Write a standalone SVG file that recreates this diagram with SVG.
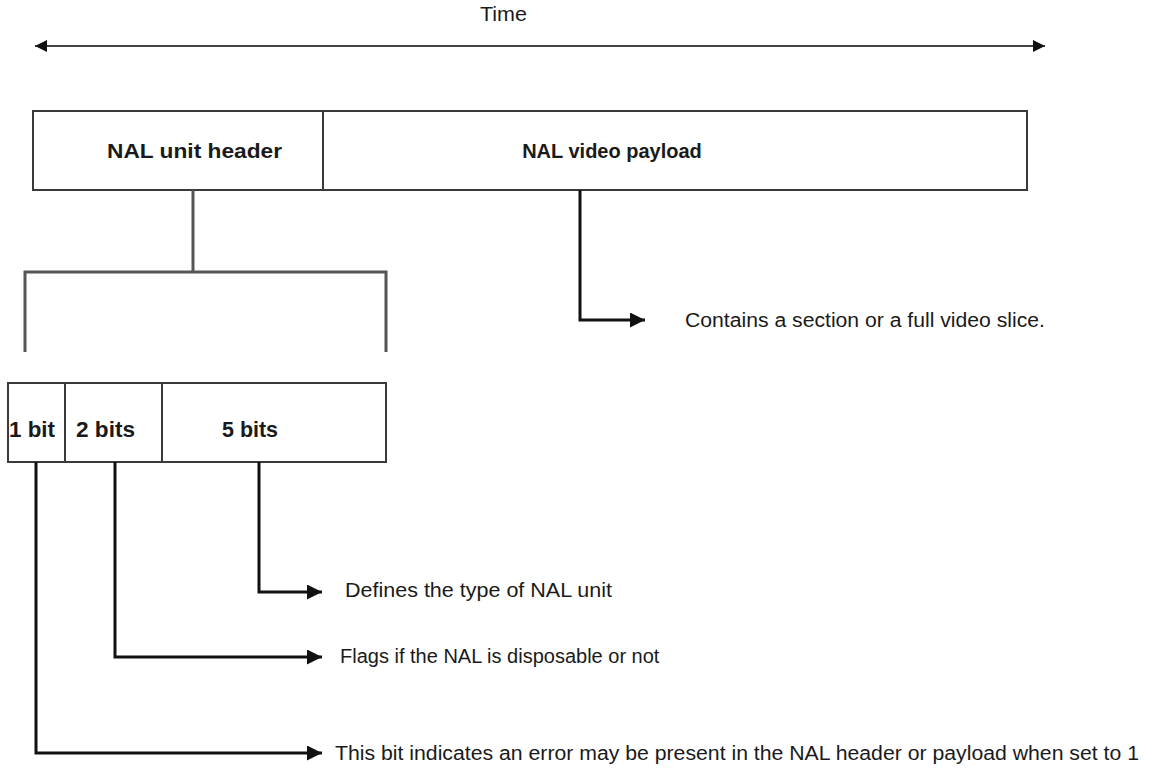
<svg xmlns="http://www.w3.org/2000/svg" width="1152" height="769" viewBox="0 0 1152 769">
  <style>
    .box { fill: #ffffff; stroke: #3a3a3a; stroke-width: 2; }
    .div { stroke: #3a3a3a; stroke-width: 2; }
    .bracket { fill: none; stroke: #555555; stroke-width: 3; }
    .conn { fill: none; stroke: #111111; stroke-width: 3; }
    .time { stroke: #444444; stroke-width: 2; }
    .lbl { font-family: "Liberation Sans", Arial, sans-serif; font-size: 20px; font-weight: bold; fill: #1a1a1a; }
    .bits { font-family: "Liberation Sans", Arial, sans-serif; font-size: 22px; font-weight: bold; fill: #1a1a1a; }
    .note { font-family: "Liberation Sans", Arial, sans-serif; font-size: 20px; fill: #1a1a1a; }
  </style>
  <defs>
    <marker id="arrow" viewBox="0 0 10 10" refX="10" refY="5" markerWidth="7.3" markerHeight="5" markerUnits="strokeWidth" orient="auto">
      <path d="M0,0 L10,5 L0,10 Z" fill="#111111"/>
    </marker>
    <marker id="arrowT" viewBox="0 0 10 10" refX="10" refY="5" markerWidth="8.5" markerHeight="6" markerUnits="strokeWidth" orient="auto-start-reverse">
      <path d="M0,0 L10,5 L0,10 Z" fill="#111111"/>
    </marker>
  </defs>

  <!-- time axis -->
  <g id="time-axis">
    <text class="note" x="480" y="21" textLength="47" lengthAdjust="spacingAndGlyphs">Time</text>
    <line class="time" x1="35" y1="46" x2="1045" y2="46" marker-start="url(#arrowT)" marker-end="url(#arrowT)"/>
  </g>

  <!-- NAL unit -->
  <g id="nal-unit">
    <rect class="box" x="33" y="111" width="994" height="79"/>
    <line class="div" x1="323" y1="111" x2="323" y2="190"/>
    <text class="lbl" x="107" y="158" textLength="175" lengthAdjust="spacingAndGlyphs">NAL unit header</text>
    <text class="lbl" x="612" y="158" text-anchor="middle">NAL video payload</text>
  </g>

  <!-- header bit fields -->
  <g id="header-bits">
    <rect class="box" x="8" y="383" width="378" height="79"/>
    <line class="div" x1="65" y1="383" x2="65" y2="462"/>
    <line class="div" x1="162" y1="383" x2="162" y2="462"/>
    <text class="bits" x="9" y="437" textLength="46" lengthAdjust="spacingAndGlyphs">1 bit</text>
    <text class="bits" x="76" y="437" textLength="59" lengthAdjust="spacingAndGlyphs">2 bits</text>
    <text class="bits" x="222" y="437" textLength="56" lengthAdjust="spacingAndGlyphs">5 bits</text>
  </g>

  <!-- descriptions -->
  <g id="notes">
    <text class="note" x="685" y="327" textLength="360" lengthAdjust="spacingAndGlyphs">Contains a section or a full video slice.</text>
    <text class="note" x="345" y="597" textLength="267" lengthAdjust="spacingAndGlyphs">Defines the type of NAL unit</text>
    <text class="note" x="340" y="663">Flags if the NAL is disposable or not</text>
    <text class="note" x="335" y="760" textLength="804" lengthAdjust="spacingAndGlyphs">This bit indicates an error may be present in the NAL header or payload when set to 1</text>
  </g>

  <!-- connectors -->
  <g id="connectors">
    <polyline class="bracket" points="193,190 193,272"/>
    <polyline class="bracket" points="25,352 25,272 386,272 386,352"/>
    <polyline class="conn" points="580,190 580,320 645,320" marker-end="url(#arrow)"/>
    <polyline class="conn" points="259,462 259,592 322,592" marker-end="url(#arrow)"/>
    <polyline class="conn" points="115,462 115,657 322,657" marker-end="url(#arrow)"/>
    <polyline class="conn" points="36,462 36,753 322,753" marker-end="url(#arrow)"/>
  </g>
</svg>
